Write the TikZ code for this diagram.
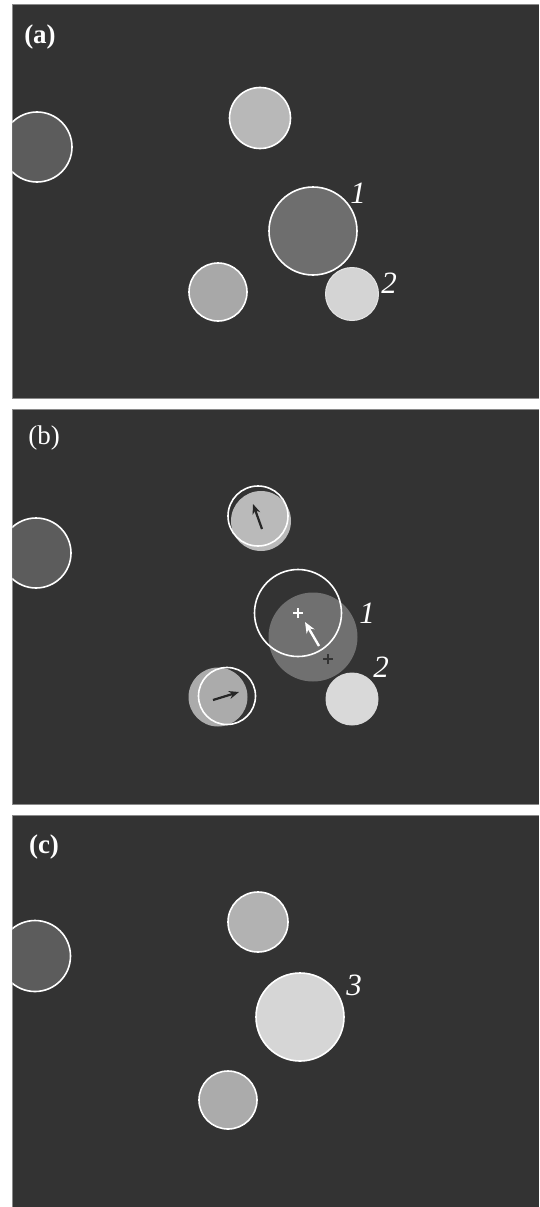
\documentclass[tikz,border=0pt]{standalone}
\usepackage{fontspec}
\setmainfont{Liberation Serif}
\usetikzlibrary{arrows.meta}
\definecolor{bg}{HTML}{333333}
\definecolor{rim}{HTML}{8A8A8A}
\tikzset{
  panel/.style={fill=bg},
  disk/.style={circle, inner sep=0pt, minimum size=#1},
  ring/.style={circle, inner sep=0pt, draw=white, line width=1.6pt, minimum size=#1},
  tag/.style={text=white, font=\fontsize{27}{27}\selectfont},
  num/.style={text=white, font=\fontsize{31}{31}\selectfont\itshape},
  darrow/.style={line width=2.2pt, black!85, -{Stealth[length=10pt,width=8pt]}},
  warrow/.style={line width=2.4pt, white, -{Stealth[length=11pt,width=9pt]}},
  cross/.style={line width=1.8pt}
}
\begin{document}
\begin{tikzpicture}[x=1pt,y=-1pt]
\useasboundingbox[fill=white] (0,0) rectangle (539,1207);

% ---------- three dark frames ----------
\foreach \t/\b in {4/398, 409/804, 815/1210}{
  \fill[bg] (12,\t) rectangle (539,\b);
  \draw[rim, line width=0.8pt] (539,\t) -- (12,\t) -- (12,\b) -- (539,\b);
}
\begin{scope}
\clip (12.4,0) rectangle (539,1207);

% ---------- frame (a) ----------
\node[tag, font=\fontsize{27}{27}\selectfont\bfseries] (la) at (40,37) {(a)};
\node[disk=70pt, fill=black!64, ring=70pt] (a0) at (37,147) {};
\node[disk=61pt, fill=black!28, ring=61pt] (a1) at (260,118) {};
\node[disk=88pt, fill=black!57, ring=88pt] (a2) at (313,231) {};
\node[disk=58pt, fill=black!34, ring=58pt] (a3) at (218,292) {};
\node[disk=53pt, fill=black!17, draw=white!90!black, line width=1pt] (a4) at (352,294) {};
\node[num] (na1) at (358,193) {1};
\node[num] (na2) at (389,283) {2};

% ---------- frame (b) ----------
\node[tag] (lb) at (44,438) {(b)};
\node[disk=70pt, fill=black!64, ring=70pt] (b0) at (36,553) {};
% previous positions (filled) and new positions (rings)
\node[disk=60pt, fill=black!27] (b1f) at (261,521) {};
\node[ring=60pt] (b1r) at (258,516) {};
\node[disk=89pt, fill=black!56] (b2f) at (313,637) {};
\node[ring=87pt] (b2r) at (298,613) {};
\node[disk=59pt, fill=black!33] (b3f) at (218,697) {};
\node[ring=57pt] (b3r) at (227,696) {};
\node[disk=53pt, fill=black!15] (b4) at (352,699) {};
% centre marks
\coordinate (cw) at (298,613);
\coordinate (cb) at (328,659);
\draw[cross, white] ([xshift=-5pt]cw) -- ([xshift=5pt]cw) ([yshift=-5pt]cw) -- ([yshift=5pt]cw);
\draw[cross, black!80] ([xshift=-5pt]cb) -- ([xshift=5pt]cb) ([yshift=-5pt]cb) -- ([yshift=5pt]cb);
% displacement arrows
\coordinate (t1) at (262,529);
\coordinate (h1) at (253,504);
\draw[darrow] (t1) -- (h1);
\coordinate (t2) at (319,646);
\coordinate (h2) at (305,622);
\draw[warrow] (t2) -- (h2);
\coordinate (t3) at (213,700);
\coordinate (h3) at (239,692);
\draw[darrow] (t3) -- (h3);
\node[num] (nb1) at (367,613) {1};
\node[num] (nb2) at (381,667) {2};

% ---------- frame (c) ----------
\node[tag, font=\fontsize{27}{27}\selectfont\bfseries] (lc) at (44,847) {(c)};
\node[disk=71pt, fill=black!64, ring=71pt] (c0) at (35,956) {};
\node[disk=60pt, fill=black!30, ring=60pt] (c1) at (258,922) {};
\node[disk=88pt, fill=black!16, ring=88pt] (c2) at (300,1017) {};
\node[disk=58pt, fill=black!33, ring=58pt] (c3) at (228,1100) {};
\node[num] (nc3) at (354,985) {3};
\end{scope}
\end{tikzpicture}
\end{document}
